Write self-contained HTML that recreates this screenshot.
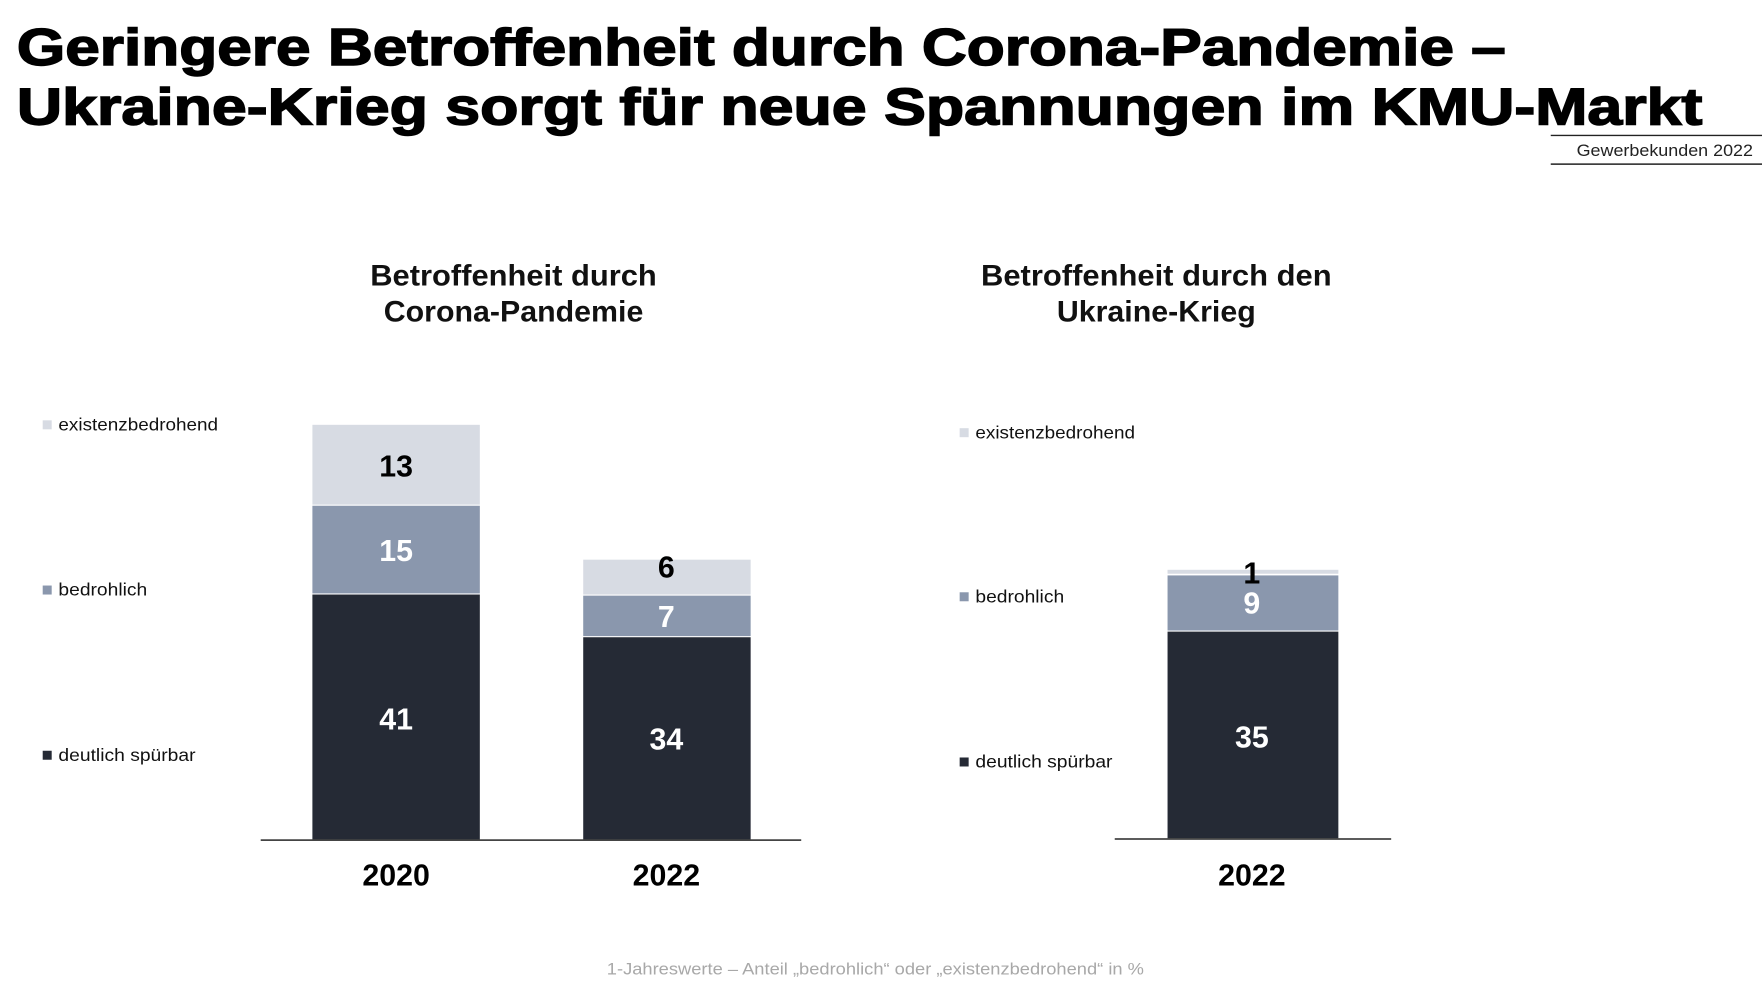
<!DOCTYPE html>
<html><head><meta charset="utf-8"><style>
html,body{margin:0;padding:0;background:#fff;}
svg{display:block;}
text{font-family:"Liberation Sans",sans-serif;}
</style></head><body>
<svg width="1762" height="998" viewBox="0 0 1568 888" preserveAspectRatio="none" xmlns="http://www.w3.org/2000/svg">
<rect width="1568" height="888" fill="#fff"/>
<g font-weight="bold" font-size="46" fill="#000" stroke="#000" stroke-width="1.3">
<text x="15" y="58" textLength="1325" lengthAdjust="spacingAndGlyphs">Geringere Betroffenheit durch Corona-Pandemie –</text>
<text x="15" y="111" textLength="1500" lengthAdjust="spacingAndGlyphs">Ukraine-Krieg sorgt für neue Spannungen im KMU-Markt</text>
</g>
<line x1="1380" y1="120.5" x2="1568" y2="120.5" stroke="#222" stroke-width="1.3"/>
<text x="1560" y="139" font-size="15" text-anchor="end" fill="#222" textLength="157" lengthAdjust="spacingAndGlyphs">Gewerbekunden 2022</text>
<line x1="1380" y1="146" x2="1568" y2="146" stroke="#222" stroke-width="1.3"/>

<g font-weight="bold" font-size="26" fill="#111" text-anchor="middle">
<text x="457" y="254" textLength="255" lengthAdjust="spacingAndGlyphs">Betroffenheit durch</text>
<text x="457" y="286" textLength="231" lengthAdjust="spacingAndGlyphs">Corona-Pandemie</text>
<text x="1029" y="254" textLength="312" lengthAdjust="spacingAndGlyphs">Betroffenheit durch den</text>
<text x="1029" y="286" textLength="177" lengthAdjust="spacingAndGlyphs">Ukraine-Krieg</text>
</g>

<!-- legends -->
<g font-size="16" fill="#111">
<rect x="38" y="374" width="8" height="8" fill="#d7dbe3"/>
<text x="52" y="383" textLength="142" lengthAdjust="spacingAndGlyphs">existenzbedrohend</text>
<rect x="38" y="521" width="8" height="8" fill="#8a97ad"/>
<text x="52" y="530" textLength="79" lengthAdjust="spacingAndGlyphs">bedrohlich</text>
<rect x="38" y="668" width="8" height="8" fill="#252a35"/>
<text x="52" y="677" textLength="122" lengthAdjust="spacingAndGlyphs">deutlich spürbar</text>

<rect x="854" y="381" width="8" height="8" fill="#d7dbe3"/>
<text x="868" y="390" textLength="142" lengthAdjust="spacingAndGlyphs">existenzbedrohend</text>
<rect x="854" y="527" width="8" height="8" fill="#8a97ad"/>
<text x="868" y="536" textLength="79" lengthAdjust="spacingAndGlyphs">bedrohlich</text>
<rect x="854" y="674" width="8" height="8" fill="#252a35"/>
<text x="868" y="683" textLength="122" lengthAdjust="spacingAndGlyphs">deutlich spürbar</text>
</g>

<!-- bars left -->
<rect x="278" y="378" width="149" height="71" fill="#d7dbe3"/>
<rect x="278" y="450" width="149" height="78" fill="#8a97ad"/>
<rect x="278" y="529" width="149" height="218" fill="#252a35"/>
<rect x="519" y="498" width="149" height="31" fill="#d7dbe3"/>
<rect x="519" y="530" width="149" height="36" fill="#8a97ad"/>
<rect x="519" y="567" width="149" height="180" fill="#252a35"/>
<line x1="232" y1="747.5" x2="713" y2="747.5" stroke="#444" stroke-width="1.6"/>

<!-- bar right -->
<rect x="1039" y="507" width="152" height="3.5" fill="#d7dbe3"/>
<rect x="1039" y="512" width="152" height="49" fill="#8a97ad"/>
<rect x="1039" y="562" width="152" height="184" fill="#252a35"/>
<line x1="992" y1="746.5" x2="1238" y2="746.5" stroke="#444" stroke-width="1.6"/>

<g font-weight="bold" font-size="27" text-anchor="middle">
<text x="352.5" y="424" fill="#000">13</text>
<text x="352.5" y="499" fill="#fff">15</text>
<text x="352.5" y="649" fill="#fff">41</text>
<text x="593" y="514" fill="#000">6</text>
<text x="593" y="558" fill="#fff">7</text>
<text x="593" y="667" fill="#fff">34</text>
<text x="1114" y="519" fill="#000">1</text>
<text x="1114" y="546" fill="#fff">9</text>
<text x="1114" y="665" fill="#fff">35</text>
<text x="352.5" y="788" fill="#000">2020</text>
<text x="593" y="788" fill="#000">2022</text>
<text x="1114" y="788" fill="#000">2022</text>
</g>

<text x="779" y="867" font-size="15" fill="#a8a8a8" text-anchor="middle" textLength="478" lengthAdjust="spacingAndGlyphs">1-Jahreswerte – Anteil „bedrohlich“ oder „existenzbedrohend“ in %</text>
</svg>
</body></html>
